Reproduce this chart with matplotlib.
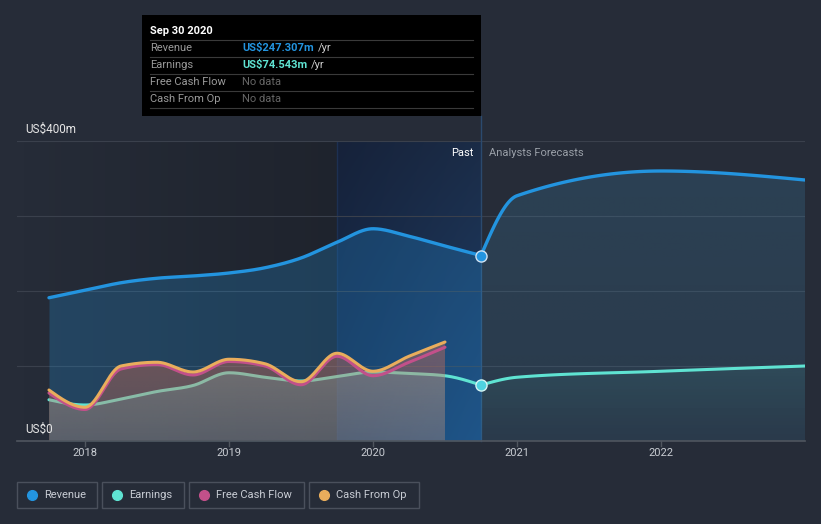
import numpy as np
import matplotlib
matplotlib.use('Agg')
import matplotlib.pyplot as plt
from matplotlib.patches import Rectangle, PathPatch
from matplotlib.path import Path
from matplotlib.lines import Line2D

plt.rcParams['font.family'] = ['Roboto', 'DejaVu Sans']

# ---------------- data ----------------
past_dates = [2017.75, 2018.0, 2018.25, 2018.5, 2018.75, 2019.0, 2019.25,
              2019.5, 2019.75, 2020.0, 2020.25, 2020.5, 2020.75]
revenue_past = [191, 201, 211, 217, 220, 224, 231, 244, 265, 283, 273, 260, 247.307]
earnings_past = [55, 48, 56, 66, 74, 91, 85, 80, 86, 92, 90, 87, 74.543]
cash_dates = [2017.75, 2018.0, 2018.25, 2018.5, 2018.75, 2019.0, 2019.25,
              2019.5, 2019.75, 2020.0, 2020.25, 2020.5]
cash_from_op = [68, 45, 100, 105, 92, 109, 103, 79, 117, 93, 113, 132]
free_cash_flow = [64, 42, 96, 102, 88, 106, 100, 75, 113, 87, 105, 125]
forecast_dates = [2020.75, 2021.0, 2022.0, 2023.0]
revenue_forecast = [247.307, 327, 360, 348]
earnings_forecast = [74.543, 85, 93, 100]
year_ticks = [2018, 2019, 2020, 2021, 2022]
past_date = 2020.75
band_start = 2019.75

BG = '#262c38'
C_REV = '#2394df'
C_EARN = '#5fe3d2'
C_FCF = '#c2508a'
C_CFO = '#e9ad5c'

W, H = 821, 524


def px(x, y):
    return x / W, 1 - y / H


def monotone(x, y, n=40):
    x = np.asarray(x, float)
    y = np.asarray(y, float)
    k = len(x)
    h = np.diff(x)
    s = np.diff(y) / h
    t = np.zeros(k)
    for i in range(1, k - 1):
        h0, h1 = h[i - 1], h[i]
        s0, s1 = s[i - 1], s[i]
        p = (s0 * h1 + s1 * h0) / (h0 + h1)
        t[i] = (np.sign(s0) + np.sign(s1)) * min(abs(s0), abs(s1), 0.5 * abs(p))
    if k > 2:
        t[0] = (3 * s[0] - t[1]) / 2
        t[-1] = (3 * s[-1] - t[-2]) / 2
    else:
        t[0] = t[-1] = s[0]
    xs, ys = [], []
    for i in range(k - 1):
        u = np.linspace(0, 1, n, endpoint=(i == k - 2))
        dx = h[i]
        y0, y1 = y[i], y[i + 1]
        b0 = (1 - u) ** 3
        b1 = 3 * u * (1 - u) ** 2
        b2 = 3 * u ** 2 * (1 - u)
        b3 = u ** 3
        xs.append(x[i] + u * dx)
        ys.append(b0 * y0 + b1 * (y0 + dx * t[i] / 3) + b2 * (y1 - dx * t[i + 1] / 3) + b3 * y1)
    return np.concatenate(xs), np.concatenate(ys)


def poly_patch(ax, x, ytop, ybot=None):
    if ybot is None:
        ybot = np.zeros_like(ytop)
    verts = list(zip(x, ytop)) + list(zip(x[::-1], ybot[::-1]))
    verts.append(verts[0])
    patch = PathPatch(Path(verts, closed=True), facecolor='none', edgecolor='none')
    ax.add_patch(patch)
    return patch


def vgrad(ax, x, ytop, rgb, a_top, a_bot, zorder, y_hi=None):
    patch = poly_patch(ax, x, ytop)
    if y_hi is None:
        y_hi = float(np.max(ytop))
    arr = np.zeros((128, 1, 4))
    arr[..., 0] = rgb[0] / 255
    arr[..., 1] = rgb[1] / 255
    arr[..., 2] = rgb[2] / 255
    arr[:, 0, 3] = np.linspace(a_top, a_bot, 128)
    im = ax.imshow(arr, extent=[x.min(), x.max(), 0, y_hi], origin='upper',
                   aspect='auto', zorder=zorder, interpolation='bilinear')
    im.set_clip_path(patch)


fig = plt.figure(figsize=(W / 100, H / 100), dpi=100, facecolor=BG)
ax = fig.add_axes([17 / W, 83 / H, 788 / W, 300 / H])
ax.axis('off')
XMIN, XMAX = 2017.528, 2023.0

# past darkening gradient
arr = np.zeros((1, 256, 4))
arr[0, :, 3] = np.linspace(0.0, 0.2, 256)
ax.imshow(arr, extent=[XMIN, band_start, 0, 400], origin='upper', aspect='auto',
          zorder=0.5, interpolation='bilinear')

# last-year band gradient
tl, tr = np.array([22, 34, 58]), np.array([27, 44, 71])
bl, br = np.array([24, 46, 80]), np.array([30, 64, 108])
uu = np.linspace(0, 1, 64)[None, :, None]
vv = np.linspace(0, 1, 64)[:, None, None]
band = (1 - vv) * ((1 - uu) * tl + uu * tr) + vv * ((1 - uu) * bl + uu * br)
band = np.concatenate([band / 255, np.ones((64, 64, 1))], axis=2)
ax.imshow(band, extent=[band_start, past_date, 0, 400], origin='upper', aspect='auto',
          zorder=0.6, interpolation='bilinear')
ax.plot([band_start, band_start], [0, 400], color='#1d3052', lw=1, zorder=0.7)

# gridlines
for v in [100, 200, 300, 400]:
    ax.axhline(v, color='#3a404c', lw=0.8, zorder=1)
ax.axhline(0, color='#50565f', lw=1.2, zorder=9, clip_on=False)
for yr in year_ticks:
    ax.plot([yr, yr], [0, -6.5], color='#50565f', lw=1, clip_on=False, zorder=9)

ax.plot([past_date, past_date], [0, 433], color='#2b4a6e', lw=1, zorder=1.2, clip_on=False)

# curves
rx, ry = monotone(past_dates, revenue_past)
rfx, rfy = monotone(forecast_dates, revenue_forecast)
ex, ey = monotone(past_dates, earnings_past)
efx, efy = monotone(forecast_dates, earnings_forecast)
cx, cy = monotone(cash_dates, cash_from_op)
fx, fy = monotone(cash_dates, free_cash_flow)

# revenue fills
ax.fill_between(rx, 0, ry, color=C_REV, alpha=0.25, lw=0, zorder=2)
vgrad(ax, rfx, rfy, (70, 155, 205), 0.19, 0.13, 2, y_hi=360)

# earnings fills
mask = ex <= cash_dates[-1] + 1e-9
vgrad(ax, ex[mask], ey[mask], (79, 216, 224), 0.30, 0.15, 3, y_hi=100)
vgrad(ax, efx, efy, (95, 227, 211), 0.09, 0.0, 3, y_hi=100)

ax.plot(ex, ey, color=C_EARN, lw=2.2, zorder=4, solid_capstyle='round')
ax.plot(efx, efy, color=C_EARN, lw=2.2, zorder=4, solid_capstyle='round')

# cash fill (covers earnings line)
vgrad(ax, cx, cy, (218, 112, 85), 0.42, 0.28, 5, y_hi=132)

ax.plot(fx, fy, color=C_FCF, lw=2.2, zorder=6, solid_capstyle='round')
ax.plot(cx, cy, color=C_CFO, lw=2.2, zorder=6.5, solid_capstyle='round')

ax.plot(rx, ry, color=C_REV, lw=2.4, zorder=7, solid_capstyle='round')
ax.plot(rfx, rfy, color=C_REV, lw=2.4, zorder=7, solid_capstyle='round')

ax.plot([past_date], [revenue_past[-1]], 'o', ms=8, mfc=C_REV, mec='#cfe2f3', mew=1, zorder=8)
ax.plot([past_date], [earnings_past[-1]], 'o', ms=8, mfc='#4fd3e0', mec='#d6f5f3', mew=1, zorder=8)

ax.set_xlim(XMIN, XMAX)
ax.set_ylim(0, 400)

# tick labels
for yr in year_ticks:
    ax.text(yr, -16, str(yr), ha='center', va='center', color='#c8ccd2', fontsize=8,
            clip_on=False)

fig.text(*px(25, 129), 'US$400m', color='#e6e6e6', fontsize=8.5, va='center', ha='left')
fig.text(*px(25, 429), 'US$0', color='#e6e6e6', fontsize=8.5, va='center', ha='left')

fig.text(*px(473, 153), 'Past', color='#ffffff', fontsize=8, va='center', ha='right')
fig.text(*px(489, 153), 'Analysts Forecasts', color='#9aa0a8', fontsize=8, va='center', ha='left')

# tooltip
x0, y0 = px(142, 116)
fig.add_artist(Rectangle((x0, y0), (481 - 142) / W, 101 / H, transform=fig.transFigure,
                         facecolor='#000000', edgecolor='none', zorder=20))
fig.text(*px(150, 31), 'Sep 30 2020', color='#ffffff', fontsize=8, fontweight='bold',
         va='center', ha='left', zorder=21)
for yy in [40, 57, 74, 91, 108]:
    fig.add_artist(Line2D([150 / W, 473 / W], [1 - yy / H, 1 - yy / H], transform=fig.transFigure,
                          color='#3a3a3a', lw=0.8, zorder=21))
rows = [('Revenue', 'US$247.307m', C_REV, '/yr'),
        ('Earnings', 'US$74.543m', C_EARN, '/yr'),
        ('Free Cash Flow', 'No data', '#666666', ''),
        ('Cash From Op', 'No data', '#666666', '')]
renderer = fig.canvas.get_renderer()
for i, (lab, val, col, suf) in enumerate(rows):
    yy = 48 + 17 * i
    fig.text(*px(150, yy), lab, color='#9a9a9a', fontsize=8, va='center', ha='left', zorder=21)
    t = fig.text(*px(242, yy), val, color=col, fontsize=8,
                 fontweight='bold' if suf else 'normal', va='center', ha='left', zorder=21)
    if suf:
        bb = t.get_window_extent(renderer)
        fig.text((bb.x1 + 4) / W, 1 - yy / H, suf, color='#cfcfcf', fontsize=8,
                 va='center', ha='left', zorder=21)

# legend
legend = [('Revenue', C_REV, 17, 97), ('Earnings', C_EARN, 102, 184),
          ('Free Cash Flow', C_FCF, 189, 304), ('Cash From Op', C_CFO, 309, 419)]
for lab, col, xa, xb in legend:
    fig.add_artist(Rectangle((xa / W, 1 - 507.5 / H), (xb - xa) / W, 26 / H,
                             transform=fig.transFigure, facecolor='none',
                             edgecolor='#4a505c', lw=1))
    fig.add_artist(Line2D([(xa + 15) / W], [1 - 494.5 / H], marker='o', ms=7, mfc=col, mec=col,
                          transform=fig.transFigure))
    fig.text((xa + 27) / W, 1 - 494.5 / H, lab, color='#c8ccd4', fontsize=8, va='center', ha='left')

fig.savefig('out.png', dpi=100, facecolor=BG)
